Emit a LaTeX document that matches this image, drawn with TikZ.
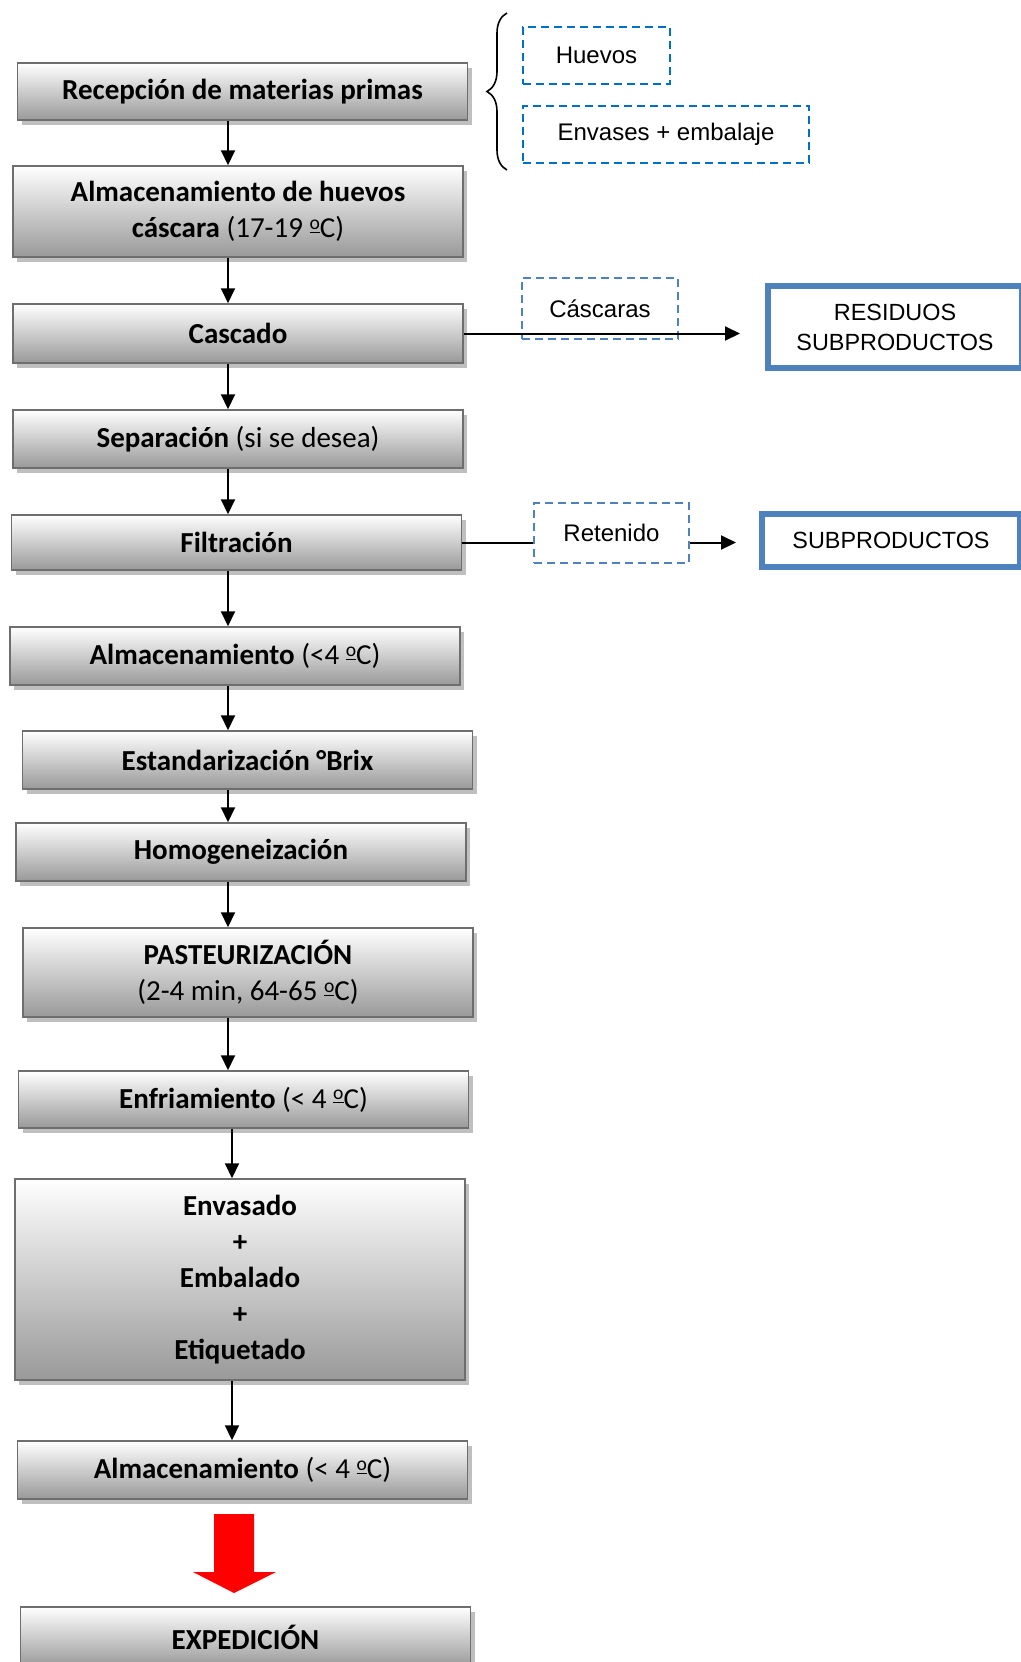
\documentclass[tikz,border=0pt]{standalone}
\usepackage{fontspec}
\setmainfont{Carlito}
\newfontfamily\ladofont{Liberation Sans}
\usepackage{tikz}
\usetikzlibrary{arrows.meta, shadows, decorations.pathreplacing}
\definecolor{azul}{HTML}{0070C0}
\definecolor{azulgris}{HTML}{4F81BD}
% masculine ordinal with its bar, as in the temperatures
\newcommand\ordo{\raisebox{4.3pt}{\fontsize{9.8}{9.8}\selectfont\underline{o}}}
\tikzset{
>={Triangle[width=7pt,length=7.5pt]}, % filled arrow heads
flecha/.style={->, line width=1pt}, % connectors between the steps
etapa/.style={draw=black!57, line width=0.75pt, top color=white, bottom color=black!40,
  drop shadow={shadow xshift=2pt, shadow yshift=-2.5pt, fill=black!25, opacity=1},
  minimum width=225pt, minimum height=29pt, align=center,
  font=\fontsize{14.5}{18}\selectfont}, % gray process boxes
insumo/.style={draw=azul, line width=1pt, dash pattern=on 4pt off 2.5pt,
  minimum height=28.5pt, font=\ladofont\fontsize{12}{15}\selectfont}, % dashed boxes
resto/.style={insumo, draw=azulgris}, % dashed boxes of what is left over
destino/.style={draw=azulgris, line width=3pt, align=center,
  font=\ladofont\fontsize{11.7}{15}\selectfont}, % thick boxes on the right
}

\begin{document}
\begin{tikzpicture}[x=0.5pt, y=-0.5pt]
    \useasboundingbox (0,0) rectangle (1021,1662);
    % main column
    \node[etapa, minimum height=28.5pt] (rec) at (242.5,91.5) {\textbf{Recepción de materias primas}};
    \node[etapa, minimum height=45.5pt] (almh) at (238,211.5) {\textbf{Almacenamiento de huevos}\\\textbf{cáscara} (17-19 \ordo C)};
    \node[etapa, minimum height=29.5pt] (cas) at (238,333.5) {\textbf{Cascado}};
    \node[etapa] (sep) at (238,439) {\textbf{Separación} (si se desea)};
    \node[etapa, minimum height=27.5pt] (fil) at (236.5,542.5) {\textbf{Filtración}};
    \node[etapa] (alm1) at (235,656) {\textbf{Almacenamiento} (<4 \ordo C)};
    \node[etapa] (est) at (247.5,760) {\textbf{Estandarización °Brix}};
    \node[etapa] (hom) at (241,852) {\textbf{Homogeneización}};
    \node[etapa, minimum height=44.5pt] (pas) at (248,972.5) {\textbf{PASTEURIZACIÓN}\\(2-4 min, 64-65 \ordo C)};
    \node[etapa, minimum height=28.5pt] (enf) at (243.5,1099.5) {\textbf{Enfriamiento} (< 4 \ordo C)};
    \node[etapa, minimum height=100.5pt] (env) at (240,1279.5) {\textbf{Envasado}\\\textbf{+}\\\textbf{Embalado}\\\textbf{+}\\\textbf{Etiquetado}};
    \node[etapa] (alm2) at (242.5,1470) {\textbf{Almacenamiento} (< 4 \ordo C)};
    \node[etapa, minimum height=30pt] (exp) at (245.5,1637) {\textbf{EXPEDICIÓN}};

    % right side
    \node[insumo, minimum width=73.5pt] (hue) at (596.5,55.5) {Huevos};
    \node[insumo, minimum width=143pt] (envs) at (666,134.5) {Envases + embalaje};
    \node[resto, minimum width=78pt, minimum height=30.5pt] (casc) at (600,308.5) {Cáscaras};
    \node[destino, minimum width=127pt, minimum height=41pt] (resid) at (895,327) {RESIDUOS\\SUBPRODUCTOS};
    \node[resto, minimum width=77.5pt, minimum height=30pt] (ret) at (611.5,533) {Retenido};
    \node[destino, minimum width=129pt, minimum height=26.5pt] (subp) at (891,540.5) {SUBPRODUCTOS};

    \draw[decorate, decoration={brace, amplitude=10pt}, line width=0.8pt] (507,170) -- (507,13);

    \coordinate (ax) at (228,0);
    \coordinate (bx) at (232,0);
    \path[flecha] (rec.south -| ax) edge (almh.north -| ax)
          (almh.south -| ax) edge (cas.north -| ax)
          (cas.south -| ax) edge (sep.north -| ax)
          (sep.south -| ax) edge (fil.north -| ax)
          (fil.south -| ax) edge (alm1.north -| ax)
          (alm1.south -| ax) edge (est.north -| ax)
          (est.south -| ax) edge (hom.north -| ax)
          (hom.south -| ax) edge (pas.north -| ax)
          (pas.south -| ax) edge (enf.north -| ax)
          (enf.south -| bx) edge (env.north -| bx)
          (env.south -| bx) edge (alm2.north -| bx)
          (cas.east) edge[shorten >=12.5pt] (cas.east -| resid.west)
          (fil.east) edge[-] (fil.east -| ret.west)
          (fil.east -| ret.east) edge[shorten >=11.5pt] (fil.east -| subp.west);

    % big red arrow
    \fill[red] (214,1514) -- (254,1514) -- (254,1572) -- (276,1572) -- (234,1593)
               -- (193,1572) -- (214,1572) -- cycle;
\end{tikzpicture}
\end{document}
